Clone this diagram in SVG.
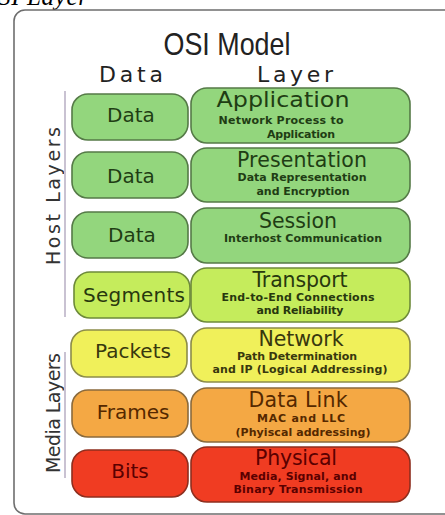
<svg xmlns="http://www.w3.org/2000/svg" width="445" height="515" viewBox="0 0 445 515">
  <style>
    .frame { fill: #ffffff; stroke: #6e6e6e; stroke-width: 1.6; }
    .cap { font-family: "Liberation Serif", serif; font-style: italic; font-size: 25px; fill: #000; }
    .title { font-family: "Liberation Sans", sans-serif; font-size: 32px; fill: #222; text-anchor: middle; }
    .head { font-family: "DejaVu Sans", sans-serif; font-size: 22px; fill: #222; text-anchor: middle; }
    .side { font-family: "DejaVu Sans", sans-serif; font-size: 19px; fill: #333; text-anchor: middle; }
    .bracket { stroke: #c9c2d2; stroke-width: 2; fill: none; }
    .box { stroke-width: 1.6; }
    .pdu { font-family: "DejaVu Sans", sans-serif; font-size: 20px; text-anchor: middle; }
    .name { font-family: "DejaVu Sans", sans-serif; font-size: 20.5px; text-anchor: middle; }
    .sub { font-family: "DejaVu Sans", sans-serif; font-size: 11px; font-weight: bold; text-anchor: middle; }
    .green .box { fill: #93d67d; stroke: #557a47; }
    .green text { fill: #1f3d14; }
    .lime .box { fill: #c5ec5c; stroke: #6d8a3a; }
    .lime text { fill: #28380e; }
    .yellow .box { fill: #f0f05a; stroke: #8c8c4a; }
    .yellow text { fill: #38380e; }
    .orange .box { fill: #f4a844; stroke: #8a6a3c; }
    .orange text { fill: #552800; }
    .red .box { fill: #f03c22; stroke: #8e2e1e; }
    .red text { fill: #5a0000; }
  </style>

  <!-- caption above the figure -->
  <text class="cap" x="-2" y="5" textLength="90">SI Layer</text>

  <!-- outer frame -->
  <rect class="frame" x="14" y="10" width="445" height="504" rx="11"/>

  <!-- headings -->
  <text class="title" x="227" y="55" textLength="127" lengthAdjust="spacingAndGlyphs">OSI Model</text>
  <text class="head" x="131" y="82" textLength="64">Data</text>
  <text class="head" x="295" y="82" textLength="76">Layer</text>

  <!-- side labels -->
  <text class="side" transform="translate(60 196) rotate(-90)" textLength="138">Host Layers</text>
  <text class="side" transform="translate(60 413) rotate(-90)" textLength="120">Media Layers</text>

  <!-- brackets beside the side labels -->
  <g id="connectors">
    <line class="bracket" x1="65" y1="91" x2="65" y2="317"/>
    <line class="bracket" x1="65" y1="352" x2="65" y2="478"/>
  </g>

  <!-- layer 7 -->
  <g id="application" class="green">
    <rect class="box" x="72" y="94" width="116" height="46" rx="16"/>
    <text class="pdu" x="131" y="122">Data</text>
    <rect class="box" x="191" y="88" width="219" height="55" rx="16"/>
    <text class="name" x="283" y="107" textLength="133" lengthAdjust="spacingAndGlyphs">Application</text>
    <text class="sub" x="281" y="124" textLength="125">Network Process to</text>
    <text class="sub" x="301" y="138" textLength="68">Application</text>
  </g>

  <!-- layer 6 -->
  <g id="presentation" class="green">
    <rect class="box" x="72" y="152" width="116" height="46" rx="16"/>
    <text class="pdu" x="131" y="183">Data</text>
    <rect class="box" x="191" y="148" width="219" height="54" rx="16"/>
    <text class="name" x="302" y="167" textLength="130">Presentation</text>
    <text class="sub" x="302" y="181" textLength="129">Data Representation</text>
    <text class="sub" x="303" y="195" textLength="93">and Encryption</text>
  </g>

  <!-- layer 5 -->
  <g id="session" class="green">
    <rect class="box" x="72" y="212" width="116" height="46" rx="16"/>
    <text class="pdu" x="132" y="242">Data</text>
    <rect class="box" x="191" y="208" width="219" height="55" rx="16"/>
    <text class="name" x="298" y="228" textLength="78">Session</text>
    <text class="sub" x="303" y="242" textLength="158">Interhost Communication</text>
  </g>

  <!-- layer 4 -->
  <g id="transport" class="lime">
    <rect class="box" x="74" y="272" width="116" height="46" rx="16"/>
    <text class="pdu" x="134" y="302" textLength="102">Segments</text>
    <rect class="box" x="191" y="268" width="219" height="54" rx="16"/>
    <text class="name" x="300" y="287" textLength="95">Transport</text>
    <text class="sub" x="298" y="301" textLength="153">End-to-End Connections</text>
    <text class="sub" x="300" y="314" textLength="87">and Reliability</text>
  </g>

  <!-- layer 3 -->
  <g id="network" class="yellow">
    <rect class="box" x="71" y="330" width="116" height="47" rx="16"/>
    <text class="pdu" x="133" y="358">Packets</text>
    <rect class="box" x="191" y="328" width="219" height="54" rx="16"/>
    <text class="name" x="301" y="346" textLength="85">Network</text>
    <text class="sub" x="297" y="360" textLength="120">Path Determination</text>
    <text class="sub" x="300" y="373" textLength="175">and IP (Logical Addressing)</text>
  </g>

  <!-- layer 2 -->
  <g id="data-link" class="orange">
    <rect class="box" x="72" y="390" width="116" height="47" rx="16"/>
    <text class="pdu" x="133" y="419">Frames</text>
    <rect class="box" x="191" y="388" width="219" height="54" rx="16"/>
    <text class="name" x="298" y="407" textLength="99">Data Link</text>
    <text class="sub" x="301" y="422" textLength="88">MAC and LLC</text>
    <text class="sub" x="303" y="436" textLength="135">(Phyiscal addressing)</text>
  </g>

  <!-- layer 1 -->
  <g id="physical" class="red">
    <rect class="box" x="72" y="450" width="116" height="47" rx="16"/>
    <text class="pdu" x="130" y="478">Bits</text>
    <rect class="box" x="191" y="447" width="219" height="55" rx="16"/>
    <text class="name" x="296" y="465" textLength="82">Physical</text>
    <text class="sub" x="298" y="480" textLength="117">Media, Signal, and</text>
    <text class="sub" x="298" y="493" textLength="129">Binary Transmission</text>
  </g>
</svg>
